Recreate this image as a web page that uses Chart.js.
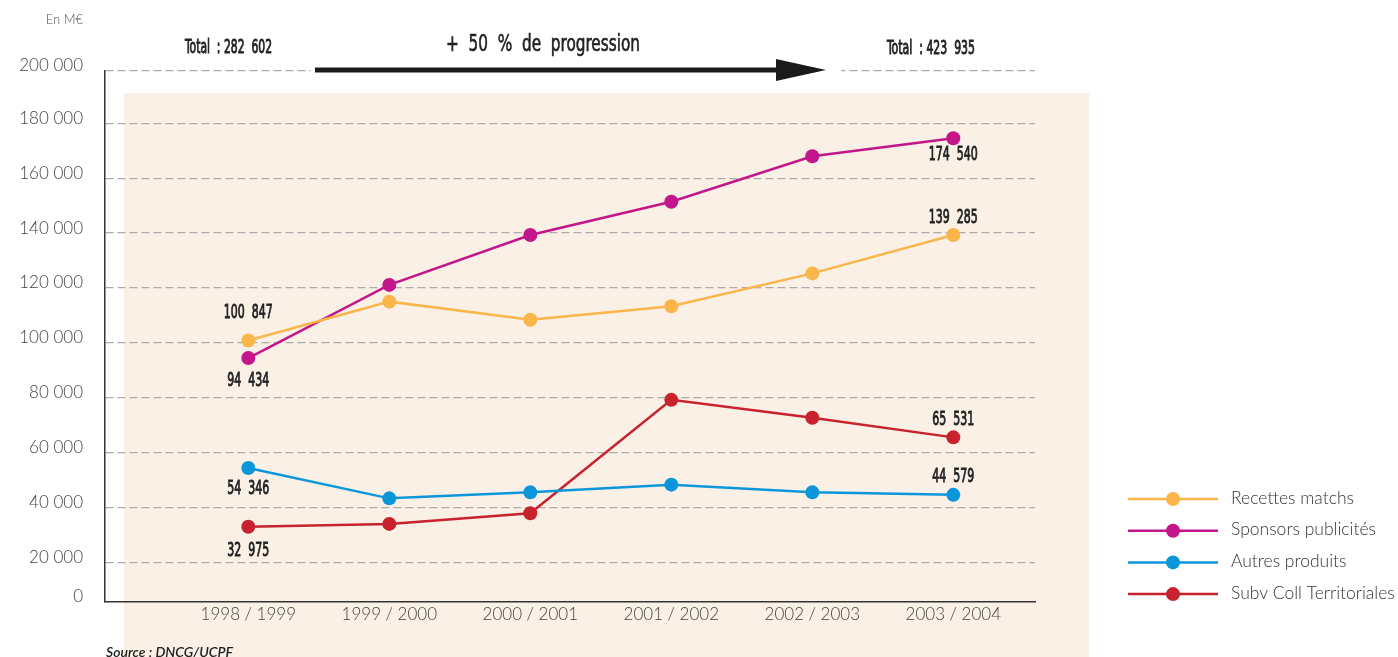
<!DOCTYPE html>
<html>
<head>
<meta charset="utf-8">
<script src="https://cdn.jsdelivr.net/npm/chart.js@4.4.1/dist/chart.umd.min.js"></script>
<style>
  html, body { margin: 0; padding: 0; background: #fff; }
  canvas { display: block; }
</style>
</head>
<body>
<canvas id="chart" width="1398" height="657"></canvas>
<script>
// données (M€)
const seasons = ['1998 / 1999', '1999 / 2000', '2000 / 2001', '2001 / 2002', '2002 / 2003', '2003 / 2004'];
const recettesMatchs = [100847, 115000, 108400, 113300, 125300, 139285];
const sponsorsPublicites = [94434, 121100, 139300, 151400, 168000, 174540];
const autresProduits = [54346, 43300, 45500, 48300, 45500, 44579];
const subvCollTerritoriales = [32975, 34000, 37900, 79200, 72700, 65531];
const seriesNames = ['Recettes matchs', 'Sponsors publicités', 'Autres produits', 'Subv Coll Territoriales'];
const seriesColors = ['#FAB64A', '#C4168B', '#0A97DA', '#C8222E'];

// axe Y : le graphique d'origine n'est pas tout à fait régulier en bas / en haut
const yMin = 5530;
const yMax = 199060;
const yTickValues = [yMin, 20000, 40000, 60000, 80000, 100000, 120000, 140000, 160000, 180000, yMax];
const yTickLabels = ['0', '20 000', '40 000', '60 000', '80 000', '100 000', '120 000', '140 000', '160 000', '180 000', '200 000'];

const allSeries = [recettesMatchs, sponsorsPublicites, autresProduits, subvCollTerritoriales];

// étiquettes de valeurs (série, saison, décalage vertical)
const valueLabels = [
  { series: 0, index: 0, dy: -28 },
  { series: 1, index: 0, dy: 23 },
  { series: 2, index: 0, dy: 21 },
  { series: 3, index: 0, dy: 24 },
  { series: 1, index: 5, dy: 17 },
  { series: 0, index: 5, dy: -17 },
  { series: 3, index: 5, dy: -18 },
  { series: 2, index: 5, dy: -18 }
];

const fmt = v => String(Math.round(v)).replace(/\B(?=(\d{3})+(?!\d))/g, ' ');
const wide = s => s.replace(/(\d) (\d)/g, '$1  $2');
const condFont = "'Liberation Sans Narrow', 'DejaVu Sans Condensed', 'Liberation Sans', sans-serif";
const lightFont = "Lato, 'Open Sans', sans-serif";

// texte condensé « demi-gras » : remplissage + léger contour
function fitText(ctx, text, x, y, font, width, align, stroke) {
  ctx.save();
  ctx.font = font;
  const sx = width / ctx.measureText(text).width;
  ctx.translate(x, y);
  ctx.scale(sx, 1);
  ctx.textAlign = align;
  ctx.textBaseline = 'middle';
  ctx.fillText(text, 0, 0);
  if (stroke) {
    ctx.strokeStyle = ctx.fillStyle;
    ctx.lineWidth = stroke;
    ctx.strokeText(text, 0, 0);
  }
  ctx.restore();
}

function condText(ctx, text, x, y, size, digitW) {
  ctx.save();
  ctx.font = size + 'px ' + condFont;
  const sx = digitW / ctx.measureText('0').width;
  ctx.translate(x, y);
  ctx.scale(sx, 1);
  ctx.textAlign = 'center';
  ctx.textBaseline = 'middle';
  ctx.fillText(text, 0, 0);
  ctx.strokeStyle = ctx.fillStyle;
  ctx.lineWidth = 0.9;
  ctx.strokeText(text, 0, 0);
  ctx.restore();
}

const totalStart = allSeries.reduce((s, a) => s + a[0], 0);
const totalEnd = allSeries.reduce((s, a) => s + a[a.length - 1], 0);
const progression = Math.round((totalEnd / totalStart - 1) * 100);

const decor = {
  id: 'decor',
  beforeDraw(chart) {
    const ctx = chart.ctx;
    ctx.save();
    ctx.fillStyle = '#fff';
    ctx.fillRect(0, 0, chart.width, chart.height);
    ctx.fillStyle = '#FAF0E6';
    ctx.fillRect(124, 93, 965, 564);
    ctx.restore();
  },
  afterDraw(chart) {
    const ctx = chart.ctx;
    const xs = chart.scales.x, ys = chart.scales.y;
    ctx.save();

    // coupure de la ligne du haut autour de la flèche
    ctx.fillStyle = '#fff';
    ctx.fillRect(311, 64, 530, 14);

    // flèche
    ctx.fillStyle = '#1a1a1a';
    ctx.fillRect(315, 67.5, 465, 5);
    ctx.beginPath();
    ctx.moveTo(776, 59);
    ctx.lineTo(826, 70);
    ctx.lineTo(776, 81);
    ctx.closePath();
    ctx.fill();

    ctx.fillStyle = '#222';
    fitText(ctx, wide('Total  : ' + fmt(totalStart)), 185, 48, '19px ' + condFont, 87, 'left', 0.9);
    fitText(ctx, wide('Total  : ' + fmt(totalEnd)), 887, 49, '19px ' + condFont, 88, 'left', 0.9);
    fitText(ctx, '+  ' + progression + '  %  de  progression', 543, 45, '23px ' + condFont, 194, 'center', 0.6);

    // unité
    ctx.fillStyle = '#555';
    ctx.font = '300 13px ' + lightFont;
    ctx.textAlign = 'right';
    ctx.textBaseline = 'middle';
    ctx.fillText('En M€', 83, 20);

    // source
    ctx.fillStyle = '#222';
    fitText(ctx, 'Source : DNCG/UCPF', 106, 652, 'italic 600 14px ' + lightFont, 127, 'left');

    // étiquettes de valeurs
    valueLabels.forEach(l => {
      const v = allSeries[l.series][l.index];
      const px = xs.getPixelForValue(l.index);
      const py = ys.getPixelForValue(v);
      condText(ctx, wide(fmt(v)), px, py + l.dy, 20, 7.0);
    });

    // légende
    seriesNames.forEach((name, i) => {
      const y = 499 + i * 31.7;
      ctx.strokeStyle = seriesColors[i];
      ctx.lineWidth = 2.5;
      ctx.beginPath();
      ctx.moveTo(1128, y);
      ctx.lineTo(1218, y);
      ctx.stroke();
      ctx.fillStyle = seriesColors[i];
      ctx.beginPath();
      ctx.arc(1173, y, 7, 0, Math.PI * 2);
      ctx.fill();
      ctx.fillStyle = '#333';
      ctx.font = '300 17.5px ' + lightFont;
      ctx.textAlign = 'left';
      ctx.textBaseline = 'middle';
      ctx.fillText(name, 1231, y - 1);
    });
    ctx.restore();
  }
};

new Chart(document.getElementById('chart'), {
  type: 'line',
  data: {
    datasets: allSeries.map((arr, i) => ({
      label: seriesNames[i],
      data: arr.map((v, j) => ({ x: j, y: v })),
      borderColor: seriesColors[i],
      backgroundColor: seriesColors[i],
      borderWidth: 2.5,
      pointRadius: 7,
      pointBorderWidth: 0,
      pointHoverRadius: 7,
      tension: 0,
      clip: false
    }))
  },
  options: {
    responsive: false,
    animation: false,
    events: [],
    layout: { padding: { left: 0, top: 71, right: 363, bottom: 0 } },
    plugins: { legend: { display: false }, tooltip: { enabled: false } },
    scales: {
      x: {
        type: 'linear',
        min: -1.0163,
        max: 5.5794,
        afterBuildTicks: s => { s.ticks = seasons.map((_, i) => ({ value: i })); },
        afterFit: s => { s.height = 55; },
        grid: { display: false, drawTicks: false },
        border: { display: true, color: '#333', width: 1.5 },
        ticks: {
          autoSkip: false,
          maxRotation: 0,
          padding: 2,
          color: '#444',
          font: { family: lightFont, size: 17, weight: '300' },
          callback: v => seasons[v]
        }
      },
      y: {
        min: yMin,
        max: yMax,
        afterBuildTicks: s => { s.ticks = yTickValues.map(v => ({ value: v })); },
        afterFit: s => { s.width = 105; },
        grid: {
          drawTicks: false,
          lineWidth: 1.2,
          color: c => c.index === 0 ? 'rgba(0,0,0,0)' : '#ababab'
        },
        border: { display: true, color: '#333', width: 1.5, dash: [8, 4] },
        ticks: {
          padding: 22,
          labelOffset: -5,
          color: '#444',
          font: { family: lightFont, size: 17, weight: '300' },
          callback: (v, i) => yTickLabels[i]
        }
      }
    }
  },
  plugins: [decor]
});
</script>
</body>
</html>
